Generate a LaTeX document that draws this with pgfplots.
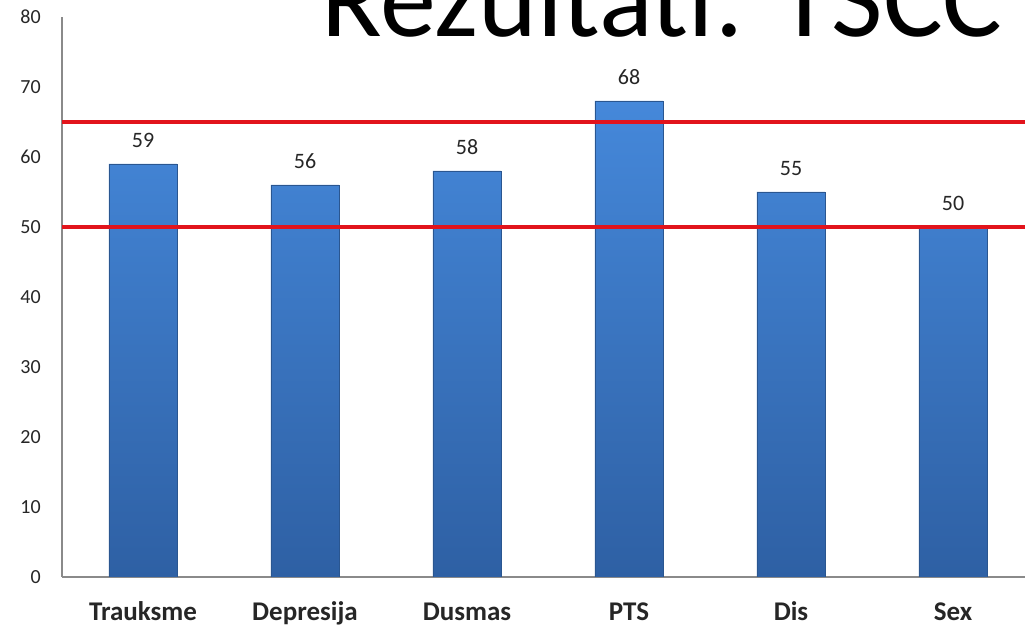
\documentclass[border=0pt]{standalone}
\usepackage{fontspec}
\setmainfont{Carlito}
\usepackage{pgfplots}
\pgfplotsset{compat=1.18}
\definecolor{barTop}{HTML}{4588DA}
\definecolor{barBot}{HTML}{2E60A4}
\definecolor{barEdge}{HTML}{2A5690}
\definecolor{refRed}{HTML}{E2141C}
\definecolor{axGray}{HTML}{8A8A8A}
\definecolor{txt}{HTML}{262626}

\begin{document}
\begin{tikzpicture}
\begin{axis}[
  at={(0,0)}, anchor=south west,
  scale only axis, width=388.8pt, height=224pt,
  xmin=-0.5, xmax=5.5, ymin=0, ymax=80,
  bar width=27.2pt,
  xtick={0,...,5}, xticklabels={Trauksme,Depresija,Dusmas,PTS,Dis,Sex},
  ytick={0,10,...,80},
  axis x line*=bottom, axis y line*=left,
  axis line style={-, axGray, line width=0.5pt},
  major tick length=0pt,
  tick label style={text=txt},
  xticklabel style={font=\fontsize{10.8}{12}\selectfont\bfseries, text height=7.5pt, text depth=2.5pt, yshift=-6.5pt},
  yticklabel style={font=\fontsize{8}{10}\selectfont, xshift=-5pt},
  /pgf/number format/assume math mode=true,
  clip=true]
\addplot[ybar, draw=barEdge, line width=0.3pt, top color=barTop, bottom color=barBot,
  nodes near coords, nodes near coords style={font=\fontsize{8.8}{10}\selectfont, text=txt, yshift=3pt}]
  coordinates {(0,59) (1,56) (2,58) (3,68) (4,55) (5,50)};
\addplot[sharp plot, refRed, line width=1.6pt] coordinates {(-0.5,65) (5.5,65)};
\addplot[sharp plot, refRed, line width=1.6pt] coordinates {(-0.5,50) (5.5,50)};
\end{axis}
\node[anchor=base, font=\fontsize{44.8}{50}\selectfont] at (240pt,216pt) {Rezultati: TSCC};
\pgfresetboundingbox
\useasboundingbox (-24.8pt,-20.4pt) rectangle (385.2pt,230.8pt);
\end{tikzpicture}
\end{document}
